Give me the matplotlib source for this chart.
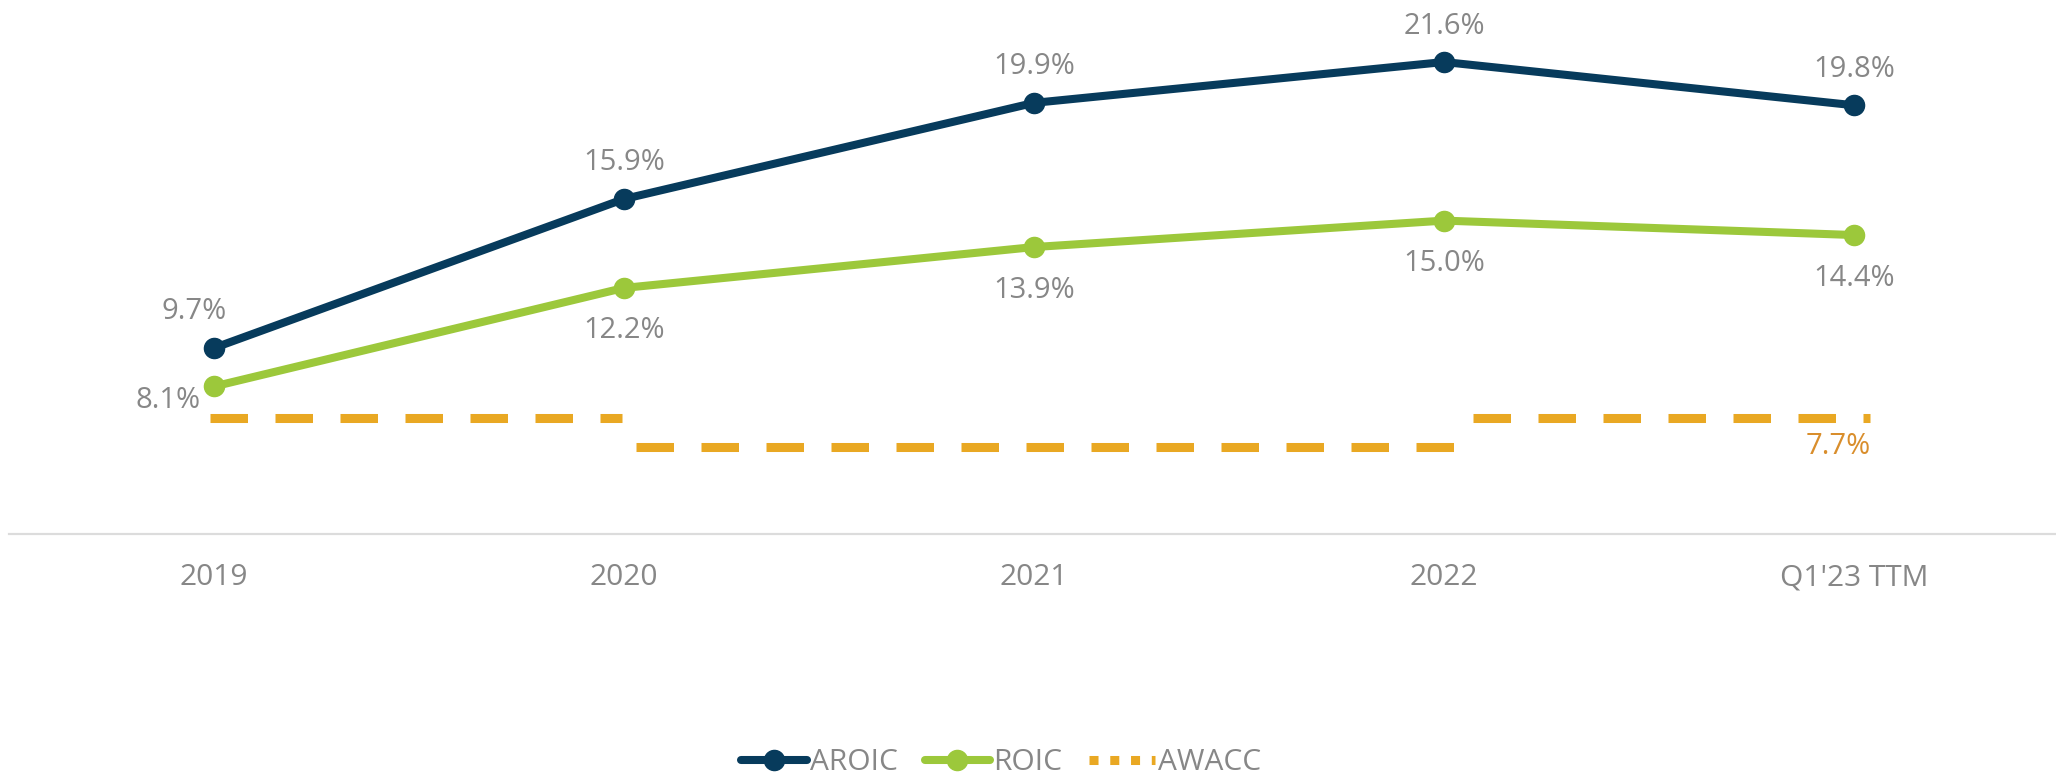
import matplotlib
matplotlib.use('Agg')
import matplotlib.pyplot as plt
from matplotlib.lines import Line2D

plt.rcParams['font.family'] = ['Open Sans', 'DejaVu Sans']

# data
categories = ["2019", "2020", "2021", "2022", "Q1'23 TTM"]
aroic = [9.7, 15.9, 19.9, 21.6, 19.8]
roic = [8.1, 12.2, 13.9, 15.0, 14.4]
# AWACC is drawn as flat segments between categories
awacc_from = [0, 1, 3]
awacc_to = [1, 3, 4]
awacc = [7.7, 6.5, 7.7]
awacc_label = "7.7%"

NAVY = '#073b5c'
GREEN = '#9cc83b'
ORANGE = '#e9a823'
ORANGE_TXT = '#d98e2c'
GREY = '#878787'

W, H = 2056, 780
fig = plt.figure(figsize=(W / 100, H / 100), dpi=100)
ax = fig.add_axes([9 / W, 246 / H, 2050 / W, 534 / H])
ax.set_xlim(-0.5, 4.5)
ax.set_ylim(1.96, 24.18)

x = list(range(len(categories)))
lw = 5.8
ms = 14.5
ax.plot(x, aroic, color=NAVY, lw=lw, marker='o', ms=ms, zorder=4,
        solid_capstyle='round')
ax.plot(x, roic, color=GREEN, lw=lw, marker='o', ms=ms, zorder=3,
        solid_capstyle='round')

# AWACC on its own scale (same px per %)
ax2 = ax.twinx()
ax2.set_ylim(1.96 + 0.91, 24.18 + 0.91)
ax2.set_axis_off()
awacc_lw = 6.5
dash = (0, (27 / awacc_lw, 19.8 / awacc_lw))
starts_off = [-0.01, 0.03, 0.07]
ends_off = [-0.005, 0.04, 0.04]
for i, v in enumerate(awacc):
    ax2.plot([awacc_from[i] + starts_off[i], awacc_to[i] + ends_off[i]], [v, v],
             color=ORANGE, lw=awacc_lw, linestyle=dash, dash_capstyle='butt',
             zorder=2)
ax2.annotate(awacc_label, (awacc_to[-1] + 0.04, awacc[-1]),
             xytext=(0, -29), textcoords='offset pixels',
             ha='right', va='center', fontsize=21, color=ORANGE_TXT)

# data labels
lab_fs = 21
for i, v in enumerate(aroic):
    dx = -20 if i == 0 else 0
    ax.annotate(f"{v:.1f}%", (i, v), xytext=(dx, 36), textcoords='offset pixels',
                ha='center', va='center', fontsize=lab_fs, color=GREY)
for i, v in enumerate(roic):
    if i == 0:
        ax.annotate(f"{v:.1f}%", (i, v), xytext=(-13, -14), textcoords='offset pixels',
                    ha='right', va='center', fontsize=lab_fs, color=GREY)
    else:
        ax.annotate(f"{v:.1f}%", (i, v), xytext=(0, -43), textcoords='offset pixels',
                    ha='center', va='center', fontsize=lab_fs, color=GREY)

# axes styling
for s in ['top', 'left', 'right']:
    ax.spines[s].set_visible(False)
ax.spines['bottom'].set_color('#dcdcdc')
ax.spines['bottom'].set_linewidth(1.6)
ax.spines['bottom'].set_zorder(0)
ax.set_yticks([])
ax.set_xticks(x)
ax.set_xticklabels(categories, fontsize=21.5, color=GREY)
ax.tick_params(axis='x', length=0, pad=21)

# legend
handles = [
    Line2D([], [], color=NAVY, lw=lw, marker='o', ms=ms, solid_capstyle='round'),
    Line2D([], [], color=GREEN, lw=lw, marker='o', ms=ms, solid_capstyle='round'),
    Line2D([], [], color=ORANGE, lw=awacc_lw, linestyle=(0, (1.0, 1.3)),
           dash_capstyle='butt'),
]
leg = fig.legend(handles, ['AROIC', 'ROIC', 'AWACC'], loc='center',
                 bbox_to_anchor=(1001 / W, 1 - 763 / H), ncol=3, frameon=False,
                 fontsize=21.5, handlelength=2.2, handletextpad=0.1,
                 columnspacing=0.9, labelcolor=GREY)

fig.savefig('out.png', dpi=100)
